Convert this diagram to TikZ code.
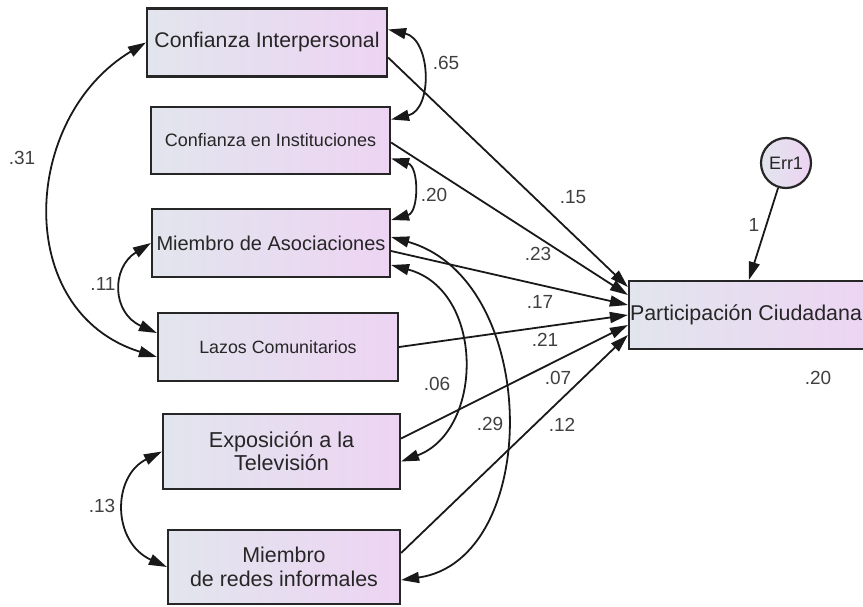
\documentclass[tikz,border=0pt]{standalone}
\usepackage{fontspec}
\setmainfont{Liberation Sans}
\usepackage{xcolor}
\usepackage{tikz}
\usetikzlibrary{arrows.meta,positioning,calc}

\definecolor{boxleft}{RGB}{226,229,237}
\definecolor{boxright}{RGB}{237,212,243}

\begin{document}
\begin{tikzpicture}[
        x=0.5pt, y=-0.5pt,
        var/.style={draw=black!85, line width=1.1pt, left color=boxleft, right color=boxright, text=black!85, align=center, inner sep=0pt},
        num/.style={text=black!75, font=\fontsize{9.5}{11}\selectfont, inner sep=0pt},
        lnk/.style={line width=0.9pt, black!90},
        >={Triangle[length=9pt,width=5.5pt]} % 箭头样式
    ]
        \useasboundingbox (0,0) rectangle (863,606);

        % 定义节点
        \node[var, minimum width=120pt, minimum height=34pt, font=\fontsize{10.6}{12}\selectfont] (CI) at (267,42.5) {Confianza Interpersonal};
        \node[var, minimum width=119.5pt, minimum height=33.5pt, font=\fontsize{9}{11}\selectfont] (CInst) at (270.5,140.5) {Confianza en Instituciones};
        \node[var, minimum width=119pt, minimum height=34pt, font=\fontsize{10}{12}\selectfont] (MA) at (271,243) {Miembro de Asociaciones};
        \node[var, minimum width=120pt, minimum height=34pt, font=\fontsize{8.9}{11}\selectfont] (LC) at (278,347) {Lazos Comunitarios};
        \node[var, minimum width=118.5pt, minimum height=37.5pt, font=\fontsize{10.8}{11.5}\selectfont] (ET) at (281.5,451.5) {Exposición a la\\Televisión};
        \node[var, minimum width=116pt, minimum height=37pt, font=\fontsize{10.7}{12}\selectfont] (MRI) at (284,567) {Miembro\\de redes informales};
        \node[var, minimum width=125pt, minimum height=34pt, font=\fontsize{10.7}{12}\selectfont] (PC) at (754,315) {\hspace*{-8pt}Participación Ciudadana};
        \node[var, circle, minimum size=25pt, font=\fontsize{9}{11}\selectfont] (Err1) at (786,163) {Err1};

        % 连接节点
        \draw[lnk,->] ($(CI.east)+(0,15)$) -- ($(PC.west)+(0,-28)$);
        \draw[lnk,->] ($(CInst.east)+(0,2)$) -- ($(PC.west)+(0,-20)$);
        \draw[lnk,->] ($(MA.east)+(0,8)$) -- ($(PC.west)+(0,-10)$);
        \draw[lnk,->] (LC.east) -- (PC.west);
        \draw[lnk,->] ($(ET.east)+(0,-13)$) -- ($(PC.west)+(0,10)$);
        \draw[lnk,->] ($(MRI.east)+(0,-14)$) -- ($(PC.west)+(0,20)$);
        \draw[lnk,->] (Err1) -- ($(PC.north west)+(121,0)$);

        % 协方差
        \draw[lnk,<->] ($(CI.east)+(0,-13)$) .. controls +(43,10) and +(42,-10) .. ($(CInst.east)+(0,-21)$);
        \draw[lnk,<->] ($(CInst.east)+(0,18)$) .. controls +(28,8) and +(28,-8) .. ($(MA.east)+(0,-23)$);
        \draw[lnk,<->] (CI.west) .. controls +(-125,75) and +(-145,-45) .. ($(LC.west)+(0,10)$);
        \draw[lnk,<->] (MA.west) .. controls +(-40,25) and +(-45,-20) .. ($(LC.west)+(0,-14)$);
        \draw[lnk,<->] (ET.west) .. controls +(-50,25) and +(-55,-25) .. (MRI.west);
        \draw[lnk,<->] ($(MA.east)+(0,22)$) .. controls +(94,25) and +(83,-31) .. ($(ET.east)+(0,10)$);
        \draw[lnk,<->] ($(MA.east)+(0,-6)$) .. controls +(151,43) and +(141,-20) .. ($(MRI.east)+(0,13)$);

        % 系数
        \node[num] (l65) at (446,63) {.65};
        \node[num] (l31) at (22,158) {.31};
        \node[num] (l20) at (434,195) {.20};
        \node[num] (l15) at (573,197) {.15};
        \node[num] (l23) at (538,254) {.23};
        \node[num] (l17) at (540,302) {.17};
        \node[num] (l21) at (545,340) {.21};
        \node[num] (l07) at (558,378) {.07};
        \node[num] (l12) at (562,425) {.12};
        \node[num] (l11) at (103,284) {.11};
        \node[num] (l06) at (437,384) {.06};
        \node[num] (l29) at (490,424) {.29};
        \node[num] (l13) at (102,506) {.13};
        \node[num] (l1) at (754,225) {1};
        \node[num] (lr2) at (818,378) {.20};

    \end{tikzpicture}
\end{document}
